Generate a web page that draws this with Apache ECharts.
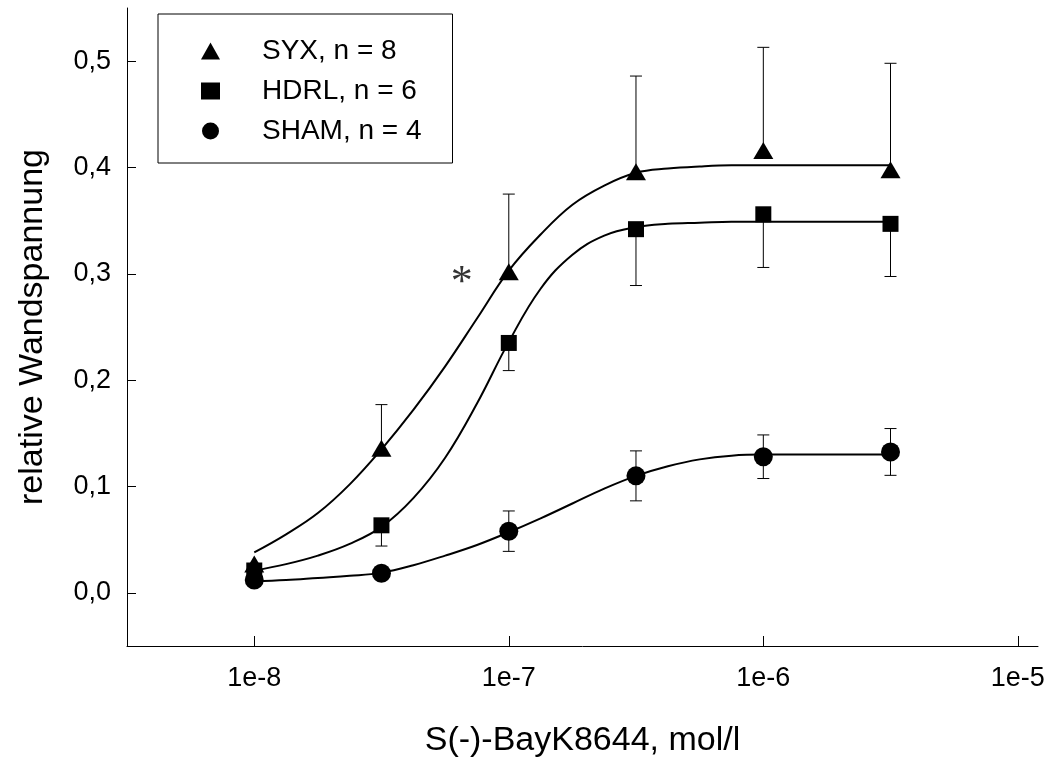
<!DOCTYPE html>
<html>
<head>
<meta charset="utf-8">
<script src="https://cdn.jsdelivr.net/npm/echarts@6/dist/echarts.min.js"></script>
<style>
  html, body, #main {
    margin: 0;
    padding: 0;
    width: 100%;
    height: 100%;
    overflow: hidden;
    background: #fff;
  }
</style>
</head>
<body>
<div id="main"></div>
<script>
// Konzentrationen der Messpunkte (mol/l)
const conc = [1e-8, 3.16e-8, 1e-7, 3.16e-7, 1e-6, 3.16e-6];

// Mittelwerte
const syx = [0.027, 0.136, 0.302, 0.396, 0.416, 0.398];
const hdrl = [0.021, 0.0635, 0.235, 0.342, 0.356, 0.347];
const sham = [0.012, 0.0185, 0.058, 0.110, 0.128, 0.1325];

// Fehlerbalken: SYX nur nach oben, HDRL nur nach unten, SHAM beidseitig
const syxTop = [null, 0.177, 0.375, 0.486, 0.513, 0.498];
const hdrlBottom = [null, 0.044, 0.209, 0.289, 0.306, 0.2975];
const shamErr = [0, 0, 0.019, 0.0235, 0.0205, 0.022];

const fitExp = [-8, -7.875, -7.75, -7.625, -7.5, -7.375, -7.25, -7.125, -7, -6.875,
  -6.75, -6.625, -6.5, -6.375, -6.25, -6.125, -6, -5.75, -5.5];
const syxFit = [0.038, 0.055, 0.075, 0.102, 0.135, 0.172, 0.213, 0.258, 0.303, 0.337,
  0.365, 0.383, 0.395, 0.399, 0.401, 0.402, 0.402, 0.402, 0.402];
const hdrlFit = [0.021, 0.027, 0.035, 0.046, 0.062, 0.089, 0.127, 0.178, 0.236, 0.286,
  0.318, 0.336, 0.344, 0.347, 0.348, 0.349, 0.349, 0.349, 0.349];
const shamFit = [0.0108, 0.012, 0.014, 0.016, 0.019, 0.026, 0.035, 0.045, 0.057, 0.070,
  0.084, 0.098, 0.110, 0.119, 0.1255, 0.129, 0.130, 0.130, 0.130];

const xTicks = [1e-8, 1e-7, 1e-6, 1e-5];
const yTicks = [0, 0.1, 0.2, 0.3, 0.4, 0.5];

const names = ["SYX, n = 8", "HDRL, n = 6", "SHAM, n = 4"];
const font = "'Liberation Sans', Arial, sans-serif";

const pts = (ys) => conc.map((c, i) => [c, ys[i]]);
const fit = (ys) => fitExp.map((e, i) => [Math.pow(10, e), ys[i]]);

function errBar(capLo, capHi) {
  return function (params, api) {
    const x = api.value(0);
    const p0 = api.coord([x, api.value(1)]);
    const p1 = api.coord([x, api.value(2)]);
    const style = { stroke: "#000", lineWidth: 1 };
    const w = 6;
    const kids = [{ type: "line", shape: { x1: p0[0], y1: p0[1], x2: p1[0], y2: p1[1] }, style }];
    if (capLo) kids.push({ type: "line", shape: { x1: p0[0] - w, y1: p0[1], x2: p0[0] + w, y2: p0[1] }, style });
    if (capHi) kids.push({ type: "line", shape: { x1: p1[0] - w, y1: p1[1], x2: p1[0] + w, y2: p1[1] }, style });
    return { type: "group", children: kids };
  };
}

const syxErrData = conc.map((c, i) => syxTop[i] == null ? null : [c, syx[i], syxTop[i]]).filter(Boolean);
const hdrlErrData = conc.map((c, i) => hdrlBottom[i] == null ? null : [c, hdrlBottom[i], hdrl[i]]).filter(Boolean);
const shamErrData = conc.map((c, i) => shamErr[i] ? [c, sham[i] - shamErr[i], sham[i] + shamErr[i]] : null).filter(Boolean);

let myChart = echarts.init(document.getElementById("main"), null, { renderer: "canvas" });

const lineSeries = (name, data) => ({
  name: name,
  type: "line",
  data: data,
  smooth: 0.4,
  symbol: "none",
  lineStyle: { color: "#000", width: 2 },
  z: 2,
  silent: true,
});

const errSeries = (data, fn) => ({
  type: "custom",
  data: data,
  renderItem: fn,
  encode: { x: 0, y: [1, 2] },
  z: 2,
  silent: true,
});

const markerSeries = (name, data, symbol, size) => ({
  name: name,
  type: "scatter",
  data: data,
  symbol: symbol,
  symbolSize: size,
  itemStyle: { color: "#000", opacity: 1 },
  z: 4,
});

myChart.setOption({
  animation: false,
  textStyle: { fontFamily: font, color: "#000" },
  grid: { left: 127, right: 18, top: 8, bottom: 119 },
  legend: {
    orient: "vertical",
    left: 158,
    top: 14,
    data: [
      { name: names[0], icon: "triangle" },
      { name: names[1], icon: "rect" },
      { name: names[2], icon: "circle" },
    ],
    itemWidth: 19,
    itemHeight: 17,
    itemGap: 12,
    padding: [23, 31, 18, 43],
    borderColor: "#000",
    borderWidth: 1,
    selectedMode: false,
    itemStyle: { opacity: 1 },
    textStyle: { fontSize: 28, fontFamily: font, color: "#000", padding: [0, 0, 0, 37] },
  },
  xAxis: {
    type: "log",
    min: Math.pow(10, -8.5),
    max: 1.2e-5,
    name: "S(-)-BayK8644, mol/l",
    nameLocation: "middle",
    nameGap: 78,
    nameTextStyle: { fontSize: 34, fontFamily: font, color: "#000" },
    axisLine: { onZero: false, lineStyle: { color: "#000", width: 1 } },
    axisTick: { inside: true, length: 10, customValues: xTicks, lineStyle: { color: "#000" } },
    axisLabel: {
      customValues: xTicks,
      fontSize: 27,
      margin: 19,
      color: "#000",
      formatter: (v) => "1e" + Math.round(Math.log10(v)),
    },
    splitLine: { show: false },
  },
  yAxis: {
    type: "value",
    min: -0.05,
    max: 0.55,
    name: "relative Wandspannung",
    nameLocation: "middle",
    nameGap: 77,
    nameTextStyle: { fontSize: 34, fontFamily: font, color: "#000" },
    axisLine: { show: true, onZero: false, lineStyle: { color: "#000", width: 1 } },
    axisTick: { show: true, inside: true, length: 9, customValues: yTicks, lineStyle: { color: "#000" } },
    axisLabel: {
      customValues: yTicks,
      fontSize: 27,
      margin: 16,
      color: "#000",
      formatter: (v) => v.toFixed(1).replace(".", ","),
    },
    splitLine: { show: false },
  },
  series: [
    lineSeries("SYX fit", fit(syxFit)),
    lineSeries("HDRL fit", fit(hdrlFit)),
    lineSeries("SHAM fit", fit(shamFit)),
    errSeries(syxErrData, errBar(false, true)),
    errSeries(hdrlErrData, errBar(true, false)),
    errSeries(shamErrData, errBar(true, true)),
    markerSeries(names[0], pts(syx), "triangle", [20, 17]),
    markerSeries(names[1], pts(hdrl), "rect", 16),
    markerSeries(names[2], pts(sham), "circle", 19),
    {
      type: "scatter",
      data: [[6.54e-8, 0.299]],
      symbolSize: 1,
      itemStyle: { color: "rgba(0,0,0,0)" },
      silent: true,
      label: {
        show: true,
        position: "inside",
        formatter: "*",
        fontSize: 44,
        fontFamily: "'Liberation Serif', serif",
        color: "#000",
        offset: [0, 9],
      },
      z: 4,
    },
  ],
});

window.onresize = myChart.resize;
</script>
</body>
</html>
